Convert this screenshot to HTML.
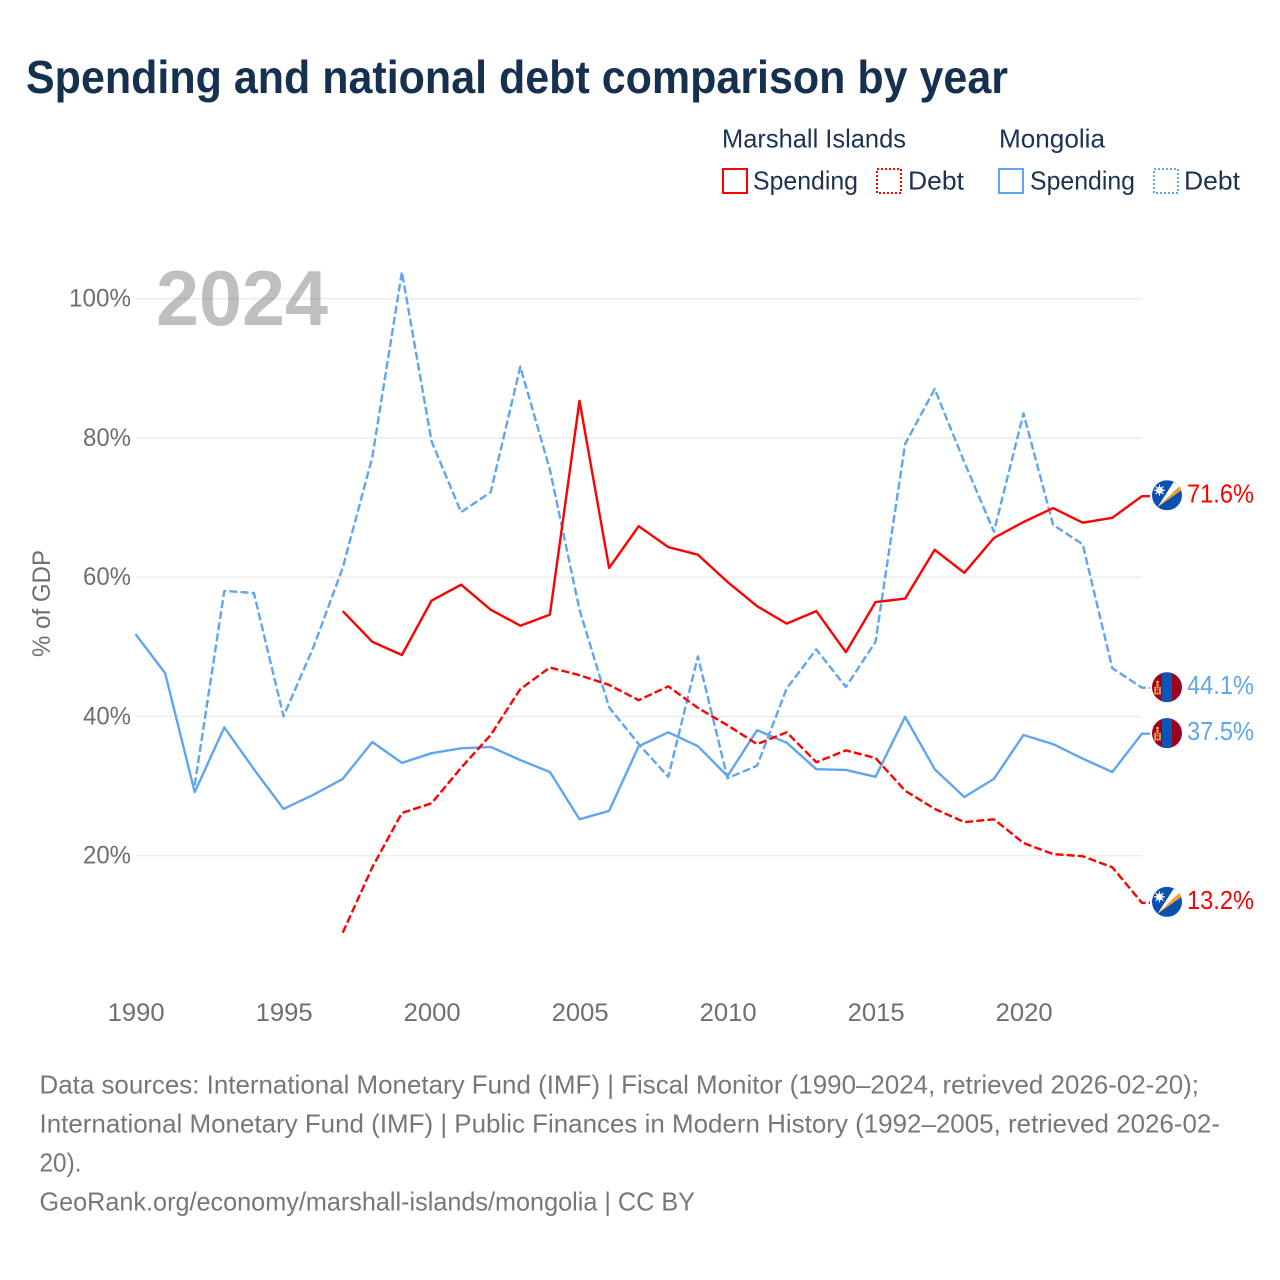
<!DOCTYPE html>
<html lang="en">
<head>
<meta charset="utf-8">
<title>Spending and national debt comparison by year</title>
<style>
html,body{margin:0;padding:0;background:#fff;}
svg{display:block;}
text{font-family:"Liberation Sans",sans-serif;}
</style>
</head>
<body>
<svg id="chart" xmlns="http://www.w3.org/2000/svg" width="1280" height="1280" viewBox="0 0 1280 1280">
  <rect width="1280" height="1280" fill="#ffffff"/>
  <text x="26" y="93" font-size="46" font-weight="700" fill="#16304f" textLength="982" lengthAdjust="spacingAndGlyphs">Spending and national debt comparison by year</text>

  <g>
    <text x="722" y="147.5" font-size="26" fill="#1b3252" textLength="184" lengthAdjust="spacingAndGlyphs">Marshall Islands</text>
    <text x="999" y="147.5" font-size="26" fill="#1b3252" textLength="106" lengthAdjust="spacingAndGlyphs">Mongolia</text>
    <rect x="723" y="169" width="24" height="24" fill="none" stroke="#ff0000" stroke-width="2"/>
    <text x="753" y="189.5" font-size="26" fill="#1b3252" textLength="105" lengthAdjust="spacingAndGlyphs">Spending</text>
    <rect x="877" y="169" width="24" height="24" fill="none" stroke="#ff0000" stroke-width="2" stroke-dasharray="2 2"/>
    <text x="908" y="189.5" font-size="26" fill="#1b3252" textLength="56" lengthAdjust="spacingAndGlyphs">Debt</text>
    <rect x="999" y="169" width="24" height="24" fill="none" stroke="#60a6ee" stroke-width="2"/>
    <text x="1030" y="189.5" font-size="26" fill="#1b3252" textLength="105" lengthAdjust="spacingAndGlyphs">Spending</text>
    <rect x="1154" y="169" width="24" height="24" fill="none" stroke="#60a6ee" stroke-width="2" stroke-dasharray="2 2"/>
    <text x="1184" y="189.5" font-size="26" fill="#1b3252" textLength="56" lengthAdjust="spacingAndGlyphs">Debt</text>
  </g>

  <g id="grid"></g>
  <text x="156" y="325" font-size="78" font-weight="700" fill="#000000" fill-opacity="0.25" textLength="172" lengthAdjust="spacingAndGlyphs">2024</text>
  <g id="yticks"></g>
  <g id="xticks"></g>
  <text transform="translate(50 603.5) rotate(-90)" text-anchor="middle" font-size="25" fill="#6f6f6f" textLength="107" lengthAdjust="spacingAndGlyphs">% of GDP</text>
  <g id="series"></g>
  <g id="ends"></g>

  <g font-size="26" fill="#777777">
    <text x="39.5" y="1093.5" textLength="1159.5" lengthAdjust="spacingAndGlyphs">Data sources: International Monetary Fund (IMF) | Fiscal Monitor (1990–2024, retrieved 2026-02-20);</text>
    <text x="39.5" y="1132.5" textLength="1180.5" lengthAdjust="spacingAndGlyphs">International Monetary Fund (IMF) | Public Finances in Modern History (1992–2005, retrieved 2026-02-</text>
    <text x="39.5" y="1171.5" textLength="42" lengthAdjust="spacingAndGlyphs">20).</text>
    <text x="39.5" y="1210.5" textLength="655.5" lengthAdjust="spacingAndGlyphs">GeoRank.org/economy/marshall-islands/mongolia | CC BY</text>
  </g>
</svg>
<script>
const xTicks = [1990, 1995, 2000, 2005, 2010, 2015, 2020];
const yTicks = [20, 40, 60, 80, 100];
const marshallSpendingYears = [1997,1998,1999,2000,2001,2002,2003,2004,2005,2006,2007,2008,2009,2010,2011,2012,2013,2014,2015,2016,2017,2018,2019,2020,2021,2022,2023,2024];
const marshallSpending = [55.1,50.7,48.8,56.6,58.9,55.3,53.0,54.6,85.3,61.3,67.3,64.3,63.2,59.3,55.8,53.3,55.1,49.2,56.4,56.9,63.9,60.6,65.6,67.9,69.9,67.8,68.5,71.6];
const marshallDebtYears = [1997,1998,1999,2000,2001,2002,2003,2004,2005,2006,2007,2008,2009,2010,2011,2012,2013,2014,2015,2016,2017,2018,2019,2020,2021,2022,2023,2024];
const marshallDebt = [8.9,18.3,26.1,27.5,32.6,37.3,43.9,47.0,45.9,44.5,42.3,44.3,41.2,38.7,36.0,37.7,33.4,35.1,34.0,29.3,26.7,24.8,25.2,21.8,20.2,19.9,18.3,13.2];
const mongoliaSpendingYears = [1990,1991,1992,1993,1994,1995,1996,1997,1998,1999,2000,2001,2002,2003,2004,2005,2006,2007,2008,2009,2010,2011,2012,2013,2014,2015,2016,2017,2018,2019,2020,2021,2022,2023,2024];
const mongoliaSpending = [51.8,46.2,29.1,38.4,32.4,26.7,28.7,31.0,36.3,33.3,34.7,35.4,35.6,33.7,32.0,25.2,26.4,35.7,37.7,35.7,31.4,38.0,36.2,32.4,32.3,31.3,39.9,32.4,28.4,31.0,37.3,36.0,33.9,32.0,37.5];
const mongoliaDebtYears = [1992,1993,1994,1995,1996,1997,1998,1999,2000,2001,2002,2003,2004,2005,2006,2007,2008,2009,2010,2011,2012,2013,2014,2015,2016,2017,2018,2019,2020,2021,2022,2023,2024];
const mongoliaDebt = [30.1,58.0,57.7,40.0,49.8,61.3,77.2,103.8,79.5,69.3,72.2,90.2,75.4,55.3,41.3,36.0,31.3,48.6,31.1,32.9,44.0,49.6,44.2,50.7,79.1,87.0,76.5,66.5,83.5,67.5,64.7,46.9,44.1];

const NS = 'http://www.w3.org/2000/svg';
const RED = '#ff0000', BLUE = '#60a6ee', GREY = '#6f6f6f';
const xOf = yr => 135.5 + (yr - 1990) * 29.6;
const yOf = v => 994.75 - v * 6.9625;

function mk(parent, tag, attrs, txt) {
  const el = document.createElementNS(NS, tag);
  for (const k in attrs) el.setAttribute(k, attrs[k]);
  if (txt !== undefined) el.textContent = txt;
  parent.appendChild(el);
  return el;
}

const grid = document.getElementById('grid');
const yG = document.getElementById('yticks');
const xG = document.getElementById('xticks');
const seriesG = document.getElementById('series');
const endsG = document.getElementById('ends');

yTicks.forEach(v => {
  const line = mk(grid, 'line', {x1: 136, x2: 1142, y1: yOf(v) + 0.3, y2: yOf(v) + 0.3, stroke: '#ececec', 'stroke-width': 1.5});
  
  
  const label = String(v) + '%';
  const t = mk(yG, 'text', {x: 131, y: yOf(v) + 8, 'text-anchor': 'end', 'font-size': 25, fill: GREY, textLength: v === 100 ? 62 : 48, lengthAdjust: 'spacingAndGlyphs'}, label);
  
  
});

xTicks.forEach(yr => {
  const t = mk(xG, 'text', {x: xOf(yr) + 0.7, y: 1021, 'text-anchor': 'middle', 'font-size': 25, fill: GREY, textLength: 57, lengthAdjust: 'spacingAndGlyphs'}, String(yr));
  
  
});

function drawLine(name, years, values, color, dashed) {
  const pts = years.map((yr, i) => xOf(yr).toFixed(1) + ',' + yOf(values[i]).toFixed(1));
  const last = values[values.length - 1];
  pts.push('1150,' + yOf(last).toFixed(1));
  const attrs = {points: pts.join(' '), fill: 'none', stroke: color, 'stroke-width': 2.4, 'stroke-linejoin': 'round'};
  if (dashed) attrs['stroke-dasharray'] = '8 3.2';
  const pl = mk(seriesG, 'polyline', attrs);
  
  
}

drawLine('line-mongolia-debt', mongoliaDebtYears, mongoliaDebt, BLUE, true);
drawLine('line-mongolia-spending', mongoliaSpendingYears, mongoliaSpending, BLUE, false);
drawLine('line-marshall-debt', marshallDebtYears, marshallDebt, RED, true);
drawLine('line-marshall-spending', marshallSpendingYears, marshallSpending, RED, false);

let clipId = 0;
function flagBase(g, cy) {
  clipId++;
  const defs = mk(g, 'defs', {});
  const cp = mk(defs, 'clipPath', {id: 'flag-clip-' + clipId});
  mk(cp, 'circle', {cx: 1167, cy: cy, r: 15});
  return mk(g, 'g', {'clip-path': 'url(#flag-clip-' + clipId + ')'});
}

function marshallFlag(name, v) {
  const cy = yOf(v) - 1;
  const g = mk(endsG, 'g', {});
  
  
  const f = flagBase(g, cy);
  mk(f, 'rect', {x: 1152, y: cy - 15, width: 30, height: 30, fill: '#0a50b0'});
  mk(f, 'polygon', {points: `1157.5,${cy + 12} 1173.5,${cy - 13} 1180.5,${cy - 10}`, fill: '#ffffff'});
  mk(f, 'polygon', {points: `1157.5,${cy + 12} 1180.5,${cy - 10} 1181.5,${cy - 5}`, fill: '#f9a02c'});
  mk(f, 'circle', {cx: 1159.5, cy: cy - 5, r: 3.4, fill: '#ffffff'});
  mk(f, 'path', {d: `M1159.5 ${cy - 10.5}V${cy + 0.5}M1154 ${cy - 5}H1165M1155.6 ${cy - 8.9}L1163.4 ${cy - 1.1}M1163.4 ${cy - 8.9}L1155.6 ${cy - 1.1}`, stroke: '#ffffff', 'stroke-width': 1.1});
}

function mongoliaFlag(name, v) {
  const cy = yOf(v) - 0.5;
  const g = mk(endsG, 'g', {});
  
  
  const f = flagBase(g, cy);
  mk(f, 'rect', {x: 1152, y: cy - 15, width: 30, height: 30, fill: '#a00020'});
  mk(f, 'rect', {x: 1162, y: cy - 15, width: 10, height: 30, fill: '#0a55b5'});
  mk(f, 'circle', {cx: 1157.5, cy: cy - 5, r: 1.4, fill: '#f0b840'});
  mk(f, 'rect', {x: 1156.3, y: cy - 3, width: 2.4, height: 2, fill: '#f0b840'});
  mk(f, 'rect', {x: 1154.3, y: cy - 0.5, width: 1.6, height: 8, fill: '#f0b840'});
  mk(f, 'rect', {x: 1159.2, y: cy - 0.5, width: 1.6, height: 8, fill: '#f0b840'});
  mk(f, 'rect', {x: 1156.5, y: cy - 0.5, width: 2, height: 1.6, fill: '#f0b840'});
  mk(f, 'rect', {x: 1156.5, y: cy + 2, width: 2, height: 1.4, fill: '#f0b840'});
  mk(f, 'rect', {x: 1156.5, y: cy + 5, width: 2, height: 2.4, fill: '#f0b840'});
}

function endLabel(name, v, color) {
  const t = mk(endsG, 'text', {x: 1187, y: yOf(v) + 6.3, 'font-size': 25.5, fill: color, textLength: 67, lengthAdjust: 'spacingAndGlyphs'}, v.toFixed(1) + '%');
  
  
}

const mhS = marshallSpending[marshallSpending.length - 1];
const mhD = marshallDebt[marshallDebt.length - 1];
const mnS = mongoliaSpending[mongoliaSpending.length - 1];
const mnD = mongoliaDebt[mongoliaDebt.length - 1];
marshallFlag('flag-marshall-spending', mhS);
endLabel('end-label-marshall-spending', mhS, RED);
marshallFlag('flag-marshall-debt', mhD);
endLabel('end-label-marshall-debt', mhD, RED);
mongoliaFlag('flag-mongolia-debt', mnD);
endLabel('end-label-mongolia-debt', mnD, BLUE);
mongoliaFlag('flag-mongolia-spending', mnS);
endLabel('end-label-mongolia-spending', mnS, BLUE);
</script>
</body>
</html>
